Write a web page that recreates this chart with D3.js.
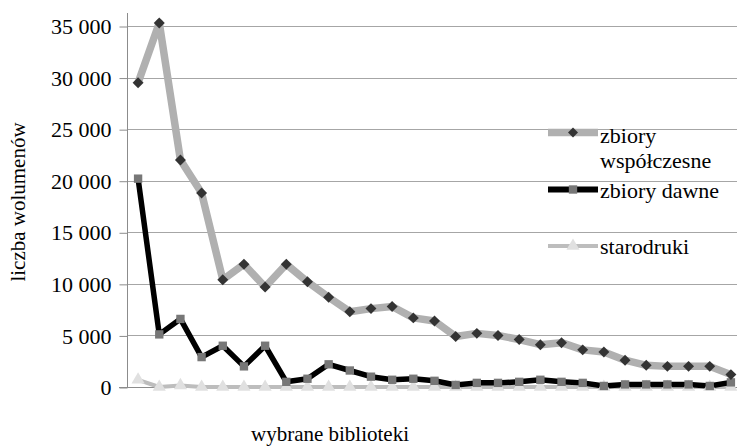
<!DOCTYPE html>
<html><head><meta charset="utf-8">
<script src="https://cdn.jsdelivr.net/npm/d3@7"></script>
<style>body{margin:0;background:#fff}svg{display:block}</style>
</head><body><svg id="c" width="737" height="448"></svg>
<script>
const categories = d3.range(1, 30).map(String);
const zbioryWspolczesne = [29500,35300,22000,18800,10400,11900,9700,11900,10200,8700,7300,7600,7800,6700,6400,4900,5200,5000,4600,4100,4300,3600,3400,2600,2100,2000,2000,2000,1200];
const zbioryDawne = [20200,5100,6600,2900,4000,2000,4000,500,800,2200,1600,1000,700,800,600,200,400,400,500,700,500,400,100,250,250,250,250,100,450];
const starodruki = [700,0,150,0,0,0,0,0,0,0,0,0,0,0,0,0,0,0,0,0,0,0,0,0,0,0,0,0,0];
const yTicks = [0,5000,10000,15000,20000,25000,30000,35000];
const seriesNames = ["zbiory\nwspółczesne","zbiory dawne","starodruki"];

const FONT = "'Liberation Serif', 'Times New Roman', Tinos, Times, 'DejaVu Serif', serif";
const svg = d3.select("#c");
const x = d3.scaleBand().domain(categories).range([127.5, 741.5]);
const y = d3.scaleLinear().domain([0,35000]).range([387, 26]);
const fmt = v => d3.format(",")(v).replace(/,/g, "\u00a0");

// gridlines
svg.append("g").selectAll("line").data(yTicks.filter(d=>d>0)).join("line")
  .attr("x1",127.5).attr("x2",737).attr("y1",d=>Math.round(y(d))+0.5).attr("y2",d=>Math.round(y(d))+0.5)
  .attr("stroke","#a6a6a6").attr("stroke-width",1);

// y axis
const ya = svg.append("g").attr("transform","translate(127.5,0)")
  .call(d3.axisLeft(y).tickValues(yTicks).tickFormat(fmt).tickSize(8).tickPadding(8));
ya.attr("font-family", null).attr("font-size", null);
ya.select(".domain").remove();
ya.selectAll(".tick line").attr("stroke","#8c8c8c").attr("transform","translate(0,0.5)");
ya.selectAll(".tick text").style("font-family",FONT).style("font-size","22px").attr("fill","#000").attr("dy","0.35em");
svg.append("line").attr("x1",127.5).attr("x2",127.5).attr("y1",13).attr("y2",387.5).attr("stroke","#8c8c8c");
svg.append("line").attr("x1",119).attr("x2",737).attr("y1",387.5).attr("y2",387.5).attr("stroke","#8c8c8c");

const cx = d => x(d) + x.bandwidth()/2;
const line = vals => d3.line().x((v,i)=>cx(categories[i])).y(v=>y(v))(vals);

svg.append("path").attr("d",line(starodruki)).attr("fill","none").attr("stroke","#bdbdbd").attr("stroke-width",4).attr("stroke-linejoin","round");
svg.append("path").attr("d",line(zbioryDawne)).attr("fill","none").attr("stroke","#000").attr("stroke-width",5.5).attr("stroke-linejoin","round");
svg.append("path").attr("d",line(zbioryWspolczesne)).attr("fill","none").attr("stroke","#b0b0b0").attr("stroke-width",7.5).attr("stroke-linejoin","round");

const square = d3.symbol().type(d3.symbolSquare).size(70)();
const tri = d3.symbol().type(d3.symbolTriangle).size(75)();

svg.append("g").selectAll("path").data(starodruki).join("path")
  .attr("d",tri).attr("transform",(v,i)=>`translate(${cx(categories[i])},${y(v)})`).attr("fill","#e0e0e0");
svg.append("g").selectAll("path").data(zbioryDawne).join("path")
  .attr("d",square).attr("transform",(v,i)=>`translate(${cx(categories[i])},${y(v)})`).attr("fill","#777");
svg.append("g").selectAll("path").data(zbioryWspolczesne).join("path")
  .attr("d",d3.symbol().type(d3.symbolSquare).size(60)()).attr("transform",(v,i)=>`translate(${cx(categories[i])},${y(v)}) rotate(45)`).attr("fill","#333");

// legend
const leg = svg.append("g");
const L = [
  {y:132.5, stroke:"#b0b0b0", w:7.5, marker:"d", fill:"#333", ty:[143,168]},
  {y:189.5, stroke:"#000", w:6, marker:"s", fill:"#777", ty:[198]},
  {y:246, stroke:"#bdbdbd", w:4, marker:"t", fill:"#e0e0e0", ty:[253.5]}
];
L.forEach((l,i)=>{
  leg.append("line").attr("x1",548).attr("x2",598).attr("y1",l.y).attr("y2",l.y).attr("stroke",l.stroke).attr("stroke-width",l.w);
  const m = leg.append("path").attr("fill",l.fill);
  if(l.marker==="d") m.attr("d",d3.symbol().type(d3.symbolSquare).size(50)()).attr("transform",`translate(573,${l.y}) rotate(45)`);
  else if(l.marker==="s") m.attr("d",square).attr("transform",`translate(573,${l.y})`);
  else m.attr("d",tri).attr("transform",`translate(573,${l.y})`);
  seriesNames[i].split("\n").forEach((p,j)=>{
    leg.append("text").attr("x",600).attr("y",l.ty[j]).style("font-family",FONT).style("font-size","22px").attr("fill","#000").text(p);
  });
});

// axis titles
svg.append("text").attr("transform","translate(25,202) rotate(-90)").attr("text-anchor","middle").style("font-family",FONT).style("font-size","21px").attr("fill","#000").text("liczba wolumenów");
svg.append("text").attr("x",330).attr("y",441).attr("text-anchor","middle").style("font-family",FONT).style("font-size","21px").attr("fill","#000").text("wybrane biblioteki");
</script></body></html>
